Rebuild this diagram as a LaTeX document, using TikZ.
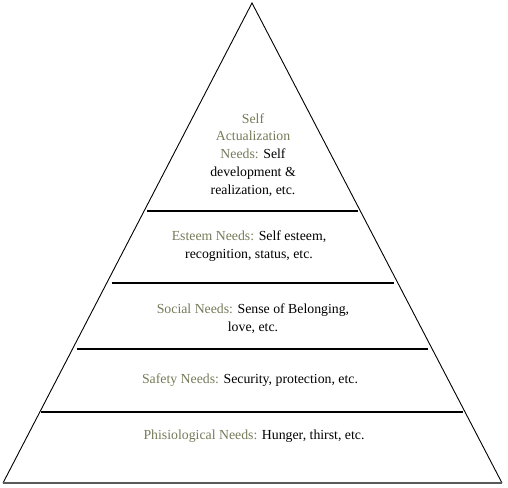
\documentclass[tikz,border=0pt]{standalone}
\usepackage{fontspec}
\setmainfont{Liberation Serif}
\definecolor{lbl}{RGB}{118,122,88}
\definecolor{basegray}{RGB}{90,90,90}
\begin{document}
\begin{tikzpicture}[x=1pt,y=-1pt,
  edge/.style={black,line width=0.9pt},
  tier/.style={black,line width=1.2pt},
  txt/.style={align=center,inner sep=0pt,font=\fontsize{13.8}{17.8}\selectfont},
  lab/.style={text=lbl}]
\useasboundingbox (0,0) rectangle (508,487);
\coordinate (apex) at (252,3);
\coordinate (bl) at (3,483);
\coordinate (br) at (502,483);
\draw[edge] (bl) -- (apex) -- (br);
\draw[basegray,line width=1.6pt] (bl) -- (br);
% tier lines
\draw[tier] (147,211) -- (358,211);
\draw[tier] (112,283) -- (394,283);
\draw[tier] (77,349) -- (428,349);
\draw[tier] (41,412) -- (463,412);
% texts
\node[txt] (self) at (253,155) {\textcolor{lbl}{Self}\\\textcolor{lbl}{Actualization}\\\textcolor{lbl}{Needs:} Self\\development \&\\realization, etc.};
\node[txt] (esteem) at (249,246) {\textcolor{lbl}{Esteem Needs:} Self esteem,\\recognition, status, etc.};
\node[txt] (social) at (253,319) {\textcolor{lbl}{Social Needs:} Sense of Belonging,\\love, etc.};
\node[txt] (safety) at (250,380) {\textcolor{lbl}{Safety Needs:} Security, protection, etc.};
\node[txt] (phys) at (254,436) {\textcolor{lbl}{Phisiological Needs:} Hunger, thirst, etc.};
\end{tikzpicture}
\end{document}
